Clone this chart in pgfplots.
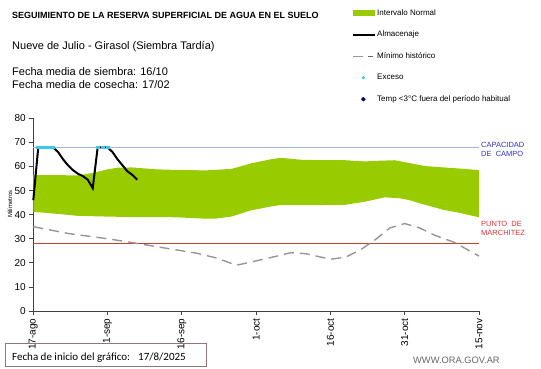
\documentclass[border=0pt]{standalone}
\usepackage{pgfplots}
\pgfplotsset{compat=1.18}
\usepackage{fontspec}
\setmainfont{Liberation Sans}
\newfontfamily\carlito{Carlito}
\definecolor{ngreen}{RGB}{153,204,0}
\definecolor{capblue}{RGB}{160,185,220}
\definecolor{pmred}{RGB}{205,60,60}
\definecolor{mingray}{RGB}{150,150,150}
\definecolor{bluetxt}{RGB}{50,50,200}
\definecolor{redtxt}{RGB}{220,50,50}
\definecolor{cyanx}{RGB}{60,200,235}
\definecolor{navyd}{RGB}{0,0,128}
\definecolor{boxc}{RGB}{140,120,120}
\begin{document}
\begin{tikzpicture}
\path[use as bounding box] (0pt,0pt) rectangle (541pt,368pt);
\begin{axis}[
  at={(33.3pt,57pt)}, anchor=south west,
  scale only axis, width=445.7pt, height=192.7pt,
  xmin=0, xmax=90, ymin=0, ymax=80,
  axis lines=left, axis line style={-, black!75, line width=0.8pt},
  xtick={0,15,...,90},
  xticklabels={17-ago,1-sep,16-sep,1-oct,16-oct,31-oct,15-nov},
  ytick={0,10,...,80},
  tick align=outside, major tick length=4pt,
  tick style={black!75, line width=0.8pt},
  x tick label style={rotate=90, anchor=east, font=\fontsize{10}{12}\selectfont},
  y tick label style={font=\fontsize{10}{12}\selectfont},
  /pgf/number format/assume math mode=true,
  ylabel={Milímetros},
  ylabel style={at={(rel axis cs:-0.0523,0.555)}, anchor=center, font=\fontsize{6}{7}\selectfont},
  clip=false,
  legend style={at={(axis cs:64.4,125.7)}, anchor=north west, draw=none, fill=none,
    font=\fontsize{8}{9}\selectfont, row sep=12pt, inner sep=0pt,
    cells={anchor=west}, nodes={inner sep=1pt, text height=6pt, text depth=1.5pt}},
  legend cell align=left,
]
% Intervalo normal (upper then lower reversed)
\addplot[fill=ngreen, draw=none, forget plot] coordinates {
 (0,56.4) (5,56.4) (9,56.3) (12,57.3) (15,58.8) (17,59.5) (20,59.6) (25,58.8) (30,58.5)
 (35,58.4) (40,59.0) (44,61.3) (48,63.0) (50,63.6) (54,62.8) (58,62.6) (63,62.6)
 (67,62.1) (70,62.4) (73,62.6) (75,61.8) (79,60.2) (83,59.6) (87,59.0) (90,58.5)
 (90,38.9) (86,40.8) (83,41.9) (80,43.6) (78,44.7) (76,46.0) (74,46.8) (71,47.2)
 (67,45.4) (63,44.1) (58,44.0) (54,44.0) (50,44.0) (48,43.4) (44,41.8) (40,39.2)
 (37,38.4) (35,38.3) (30,38.8) (27,39.0) (20,39.0) (15,39.2) (9,39.5) (5,40.3) (0,41.2)
};
% Capacidad de campo
\addplot[draw=capblue, line width=1.4pt, forget plot] coordinates {(0,67.9) (90,67.9)};
% Punto de marchitez
\addplot[draw=pmred, line width=1.6pt, forget plot] coordinates {(0,28) (90,28)};
% Minimo historico
\addplot[draw=mingray, line width=1.4pt, dash pattern=on 10pt off 6pt, forget plot] coordinates {
 (0,35) (7,32.2) (15,30) (20,28.4) (27,26) (33,24) (37,22) (41,19) (45,20.8) (49,22.7)
 (52,24.2) (55,23.8) (60,21.5) (63,22.3) (66,25.3) (69,29.5) (72,34.5) (75,36.3)
 (78,34.5) (81,31.5) (85,28.5) (90,22.8)
};
% Almacenaje
\addplot[draw=black, line width=2pt, forget plot] coordinates {
 (0,46) (1,67.9) (2,67.9) (3,67.9) (4,67.9) (5,66) (6,63) (7,60.5) (8,58.5) (9,57)
 (10,56) (11,54.5) (12,51) (13,67.9) (14,67.9) (15,67.9) (16,66) (17,63) (18,60.5)
 (19,58) (20,56.5) (21,54.5)
};
% Exceso
\addplot[only marks, mark=square*, mark size=1.2pt, color=cyanx,
  mark options={xscale=1.3, yscale=0.8, draw=none, fill=cyanx}, forget plot] coordinates {
 (1,67.9) (2,67.9) (3,67.9) (4,67.9) (13,67.9) (14,67.9) (15,67.9)
};
\addlegendimage{legend image code/.code={\fill[ngreen] (0pt,-2.5pt) rectangle (21pt,2.5pt);}}
\addlegendentry{Intervalo Normal}
\addlegendimage{legend image code/.code={\draw[black, line width=1.8pt] (0pt,0pt) -- (22pt,0pt);}}
\addlegendentry{Almacenaje}
\addlegendimage{legend image code/.code={\draw[mingray, line width=1.2pt] (0pt,0pt) -- (10pt,0pt); \draw[black!60, line width=0.8pt] (15pt,0pt) -- (19.5pt,0pt);}}
\addlegendentry{Mínimo histórico}
\addlegendimage{legend image code/.code={\path[draw=none, fill=none] (0pt,0pt) -- (22pt,0pt); \fill[cyanx] (10pt,0pt) circle (1.4pt);}}
\addlegendentry{Exceso}
\addlegendimage{legend image code/.code={\path[draw=none, fill=none] (0pt,0pt) -- (22pt,0pt); \fill[navyd] (10pt,2pt) -- (12pt,0pt) -- (10pt,-2pt) -- (8pt,0pt) -- cycle;}}
\addlegendentry{Temp <3°C fuera del período habitual}
\end{axis}
% titles
\node[anchor=base west, inner sep=0pt, font=\bfseries\fontsize{9}{10}\selectfont] at (12pt,349.5pt) {SEGUIMIENTO DE LA RESERVA SUPERFICIAL DE AGUA EN EL SUELO};
\node[anchor=base west, inner sep=0pt, font=\fontsize{11}{13}\selectfont] at (12pt,319pt) {Nueve de Julio - Girasol (Siembra Tardía)};
\node[anchor=base west, inner sep=0pt, font=\fontsize{11}{13}\selectfont] at (12pt,293pt) {Fecha media de siembra: 16/10};
\node[anchor=base west, inner sep=0pt, font=\fontsize{11}{13}\selectfont] at (12pt,279.7pt) {Fecha media de cosecha: 17/02};
% right labels
\node[anchor=base west, inner sep=0pt, text=bluetxt, font=\fontsize{7.5}{9}\selectfont] at (481pt,220.5pt) {CAPACIDAD};
\node[anchor=base west, inner sep=0pt, text=bluetxt, font=\fontsize{7.5}{9}\selectfont] at (481pt,211.5pt) {DE\ \ CAMPO};
\node[anchor=base west, inner sep=0pt, text=redtxt, font=\fontsize{7.5}{9}\selectfont] at (481pt,141.5pt) {PUNTO\ \ DE};
\node[anchor=base west, inner sep=0pt, text=redtxt, font=\fontsize{7.5}{9}\selectfont] at (481pt,133pt) {MARCHITEZ};
% bottom box
\draw[boxc, line width=0.8pt] (5pt,2pt) rectangle (206pt,25pt);
\node[anchor=base west, inner sep=0pt, font=\carlito\fontsize{11}{13}\selectfont] at (12pt,8pt) {Fecha de inicio del gráfico:};
\node[anchor=base west, inner sep=0pt, font=\carlito\fontsize{11}{13}\selectfont] at (138pt,8pt) {17/8/2025};
\node[anchor=base west, inner sep=0pt, text=black!60, font=\fontsize{9.3}{11}\selectfont] at (413pt,5pt) {WWW.ORA.GOV.AR};
\end{tikzpicture}
\end{document}
